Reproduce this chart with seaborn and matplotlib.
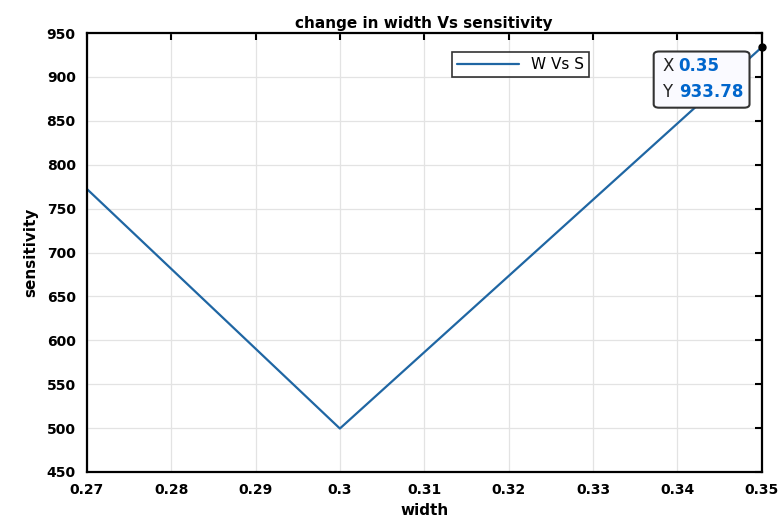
import matplotlib
matplotlib.use("Agg")
import matplotlib.pyplot as plt
from matplotlib.patches import FancyBboxPatch
import pandas as pd
import seaborn as sns

# --- datos ---
width = [0.27, 0.30, 0.35]
sensitivity = [772.5, 499.5, 933.78]
tip_x, tip_y = 0.35, 933.78

df = pd.DataFrame({"width": width, "sensitivity": sensitivity})

sns.set_style("white")
plt.rcParams["font.family"] = ["DejaVu Sans"]

fig = plt.figure(figsize=(7.82, 5.25), dpi=100)
ax = fig.add_axes([0.111, 0.101, 0.863, 0.836])

sns.lineplot(data=df, x="width", y="sensitivity", ax=ax, color="#1f66a3",
             linewidth=1.6, label="W Vs S")

ax.set_xlim(0.27, 0.35)
ax.set_ylim(450, 950)
ax.set_xticks([0.27, 0.28, 0.29, 0.30, 0.31, 0.32, 0.33, 0.34, 0.35])
ax.set_xticklabels(["0.27", "0.28", "0.29", "0.3", "0.31", "0.32", "0.33", "0.34", "0.35"])
ax.set_yticks(range(450, 951, 50))
ax.grid(True, color="#e3e3e3", linewidth=0.9)
ax.tick_params(direction="in", length=5, width=1.5, top=True, right=True,
               labelsize=10, pad=8, colors="black")
for lbl in ax.get_xticklabels() + ax.get_yticklabels():
    lbl.set_fontweight("bold")
for sp in ax.spines.values():
    sp.set_linewidth(1.6)
    sp.set_color("black")

ax.set_xlabel("width", fontsize=11, fontweight="bold", labelpad=4, color="black")
ax.set_ylabel("sensitivity", fontsize=11, fontweight="bold", labelpad=6, color="black")
ax.set_title("change in width Vs sensitivity", fontsize=11, fontweight="bold",
             pad=4, color="black")

leg = ax.legend(loc="upper left", bbox_to_anchor=(0.53, 0.975), fontsize=11,
                frameon=True, fancybox=False, edgecolor="black", handlelength=4,
                borderpad=0.35)
leg.get_frame().set_linewidth(1.2)
for t in leg.get_texts():
    t.set_color("black")

# data tip
ax.plot([tip_x], [tip_y], marker="o", color="black", markersize=5, clip_on=False,
        zorder=10)
box = FancyBboxPatch((0.84, 0.83), 0.142, 0.128, transform=ax.transAxes,
                     boxstyle="round,pad=0,rounding_size=0.008", fc="#fafaff",
                     ec="#333333", lw=1.5, zorder=8)
ax.add_patch(box)
ax.text(0.853, 0.925, "X", transform=ax.transAxes, fontsize=12, color="#222222",
        va="center", ha="left", zorder=9)
ax.text(0.853, 0.865, "Y", transform=ax.transAxes, fontsize=12, color="#222222",
        va="center", ha="left", zorder=9)
ax.text(0.877, 0.925, "0.35", transform=ax.transAxes, fontsize=12, color="#0066cc",
        fontweight="bold", va="center", ha="left", zorder=9)
ax.text(0.877, 0.865, "933.78", transform=ax.transAxes, fontsize=12, color="#0066cc",
        fontweight="bold", va="center", ha="left", zorder=9)

fig.savefig("out.png", dpi=100)
